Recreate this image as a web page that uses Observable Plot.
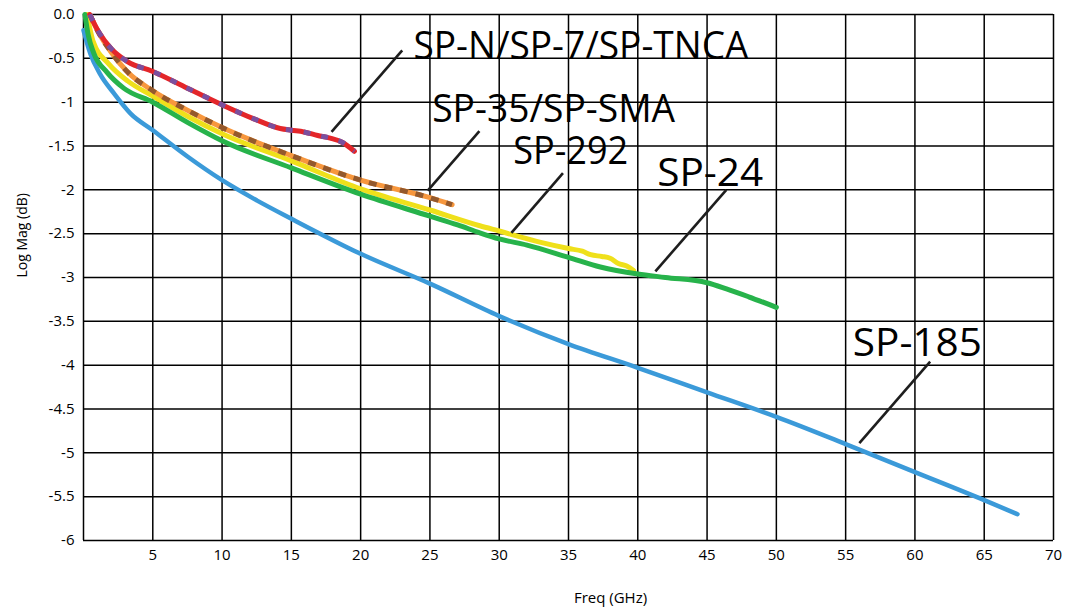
<!DOCTYPE html>
<html><head><meta charset="utf-8">
<script src="https://cdn.jsdelivr.net/npm/d3@7"></script>
<script src="https://cdn.jsdelivr.net/npm/@observablehq/plot@0.6"></script>
<style>body{margin:0;background:#fff}</style>
</head><body><div id="chart"></div>
<script>
// Tick labels
const xTicks = [5,10,15,20,25,30,35,40,45,50,55,60,65,70];
const yTicks = [0,-0.5,-1,-1.5,-2,-2.5,-3,-3.5,-4,-4.5,-5,-5.5,-6];
const gridX = [0,5,10,15,20,25,30,35,40,45,50,55,60,65,70];

// SP-185 (blue)
const sp185Freq = [0,0.5,1.2,2.2,3.4,5,7.5,10,12.5,15,20,25,30,35,40,45,50,55,60,65,67.4];
const sp185Mag  = [-0.18,-0.45,-0.68,-0.90,-1.13,-1.32,-1.62,-1.89,-2.12,-2.33,-2.73,-3.07,-3.44,-3.76,-4.03,-4.31,-4.59,-4.90,-5.22,-5.54,-5.70];

// SP-24 (green)
const sp24Freq = [0.1,0.35,0.74,1.7,2.9,5,7.5,10,15,20,25,27,28.6,30,32,35,37.3,40,42,45,46.4,48,50];
const sp24Mag  = [0,-0.24,-0.44,-0.66,-0.84,-1.00,-1.23,-1.44,-1.75,-2.05,-2.30,-2.40,-2.49,-2.56,-2.63,-2.77,-2.88,-2.96,-3.00,-3.06,-3.13,-3.22,-3.34];

// SP-292 (yellow)
const sp292Freq = [0.25,0.7,1.8,3.2,5,7.5,10,15,20,25,28.6,30,33,35,36,36.6,37.4,38,38.6,39.2,39.7];
const sp292Mag  = [0,-0.31,-0.56,-0.76,-0.93,-1.16,-1.36,-1.67,-1.99,-2.23,-2.41,-2.47,-2.60,-2.67,-2.70,-2.74,-2.76,-2.78,-2.84,-2.87,-2.92];

// SP-35/SP-SMA (orange with brown dashes)
const sp35Freq = [0.45,1,2,3.2,5,7.6,10,15,20,25,26.6];
const sp35Mag  = [0,-0.18,-0.43,-0.66,-0.87,-1.10,-1.29,-1.61,-1.89,-2.09,-2.17];

// SP-N/SP-7/SP-TNCA (red with purple dashes)
const spNFreq = [0.45,1.1,2,3.2,5,7.5,10,12.3,14.2,15,15.9,16.9,17.8,18.7,19.55];
const spNMag  = [0,-0.2,-0.39,-0.54,-0.65,-0.84,-1.03,-1.19,-1.30,-1.32,-1.34,-1.38,-1.41,-1.46,-1.56];

// Annotation labels and leader lines
const labelText = ["SP-N/SP-7/SP-TNCA","SP-35/SP-SMA","SP-292","SP-24","SP-185"];
const labelX = [23.81,25.16,31.01,41.40,55.52];
const labelY = [-0.502,-1.228,-1.711,-1.954,-3.90];
const leaderX1 = [23.0,28.57,34.6,46.39,61.1];
const leaderY1 = [-0.41,-1.33,-1.81,-2.0,-3.96];
const leaderX2 = [17.9,24.84,30.88,41.27,55.99];
const leaderY2 = [-1.34,-2.01,-2.49,-2.93,-4.89];

const toRows = (f, m) => f.map((d, i) => ({f: d, m: m[i]}));
const labels = labelText.map((t, i) => ({t, x: labelX[i], y: labelY[i]}));
const leaders = leaderX1.map((d, i) => ({x1: d, y1: leaderY1[i], x2: leaderX2[i], y2: leaderY2[i]}));

const lineOpts = (color, w = 5) => ({x: "f", y: "m", stroke: color, strokeWidth: w, curve: "monotone-x", strokeLinecap: "round", strokeLinejoin: "round"});

const chart = Plot.plot({
  width: 1080, height: 607,
  marginLeft: 83, marginRight: 27, marginTop: 14, marginBottom: 67,
  x: {domain: [0, 70]},
  y: {domain: [-6, 0]},
  style: {fontFamily: "'Open Sans', sans-serif", fontSize: "15px", background: "#fff", color: "#000", overflow: "visible"},
  marks: [
    Plot.ruleX(gridX, {stroke: "#000", strokeWidth: 1.5}),
    Plot.ruleY(yTicks, {stroke: "#000", strokeWidth: 1.5}),
    Plot.axisX(xTicks, {tickSize: 0, tickPadding: 9, label: null, fontSize: 15}),
    Plot.axisY(yTicks, {tickSize: 0, tickPadding: 9, label: null, fontSize: 15, tickFormat: d => d === 0 ? "0.0" : String(d)}),
    Plot.line(toRows(sp185Freq, sp185Mag), lineOpts("#3b9ad9", 4.5)),
    Plot.line(toRows(sp292Freq, sp292Mag), lineOpts("#efe01b", 5)),
    Plot.line(toRows(sp24Freq, sp24Mag), lineOpts("#27b34b", 5)),
    Plot.line(toRows(sp35Freq, sp35Mag), lineOpts("#f7973d", 5)),
    Plot.line(toRows(sp35Freq, sp35Mag), {...lineOpts("#94592c", 5), strokeLinecap: "butt", strokeDasharray: "8,8"}),
    Plot.line(toRows(spNFreq, spNMag), lineOpts("#e3262a", 5)),
    Plot.line(toRows(spNFreq, spNMag), {...lineOpts("#7b4f9e", 5), strokeLinecap: "butt", strokeDasharray: "7,11"}),
    Plot.link(leaders, {x1: "x1", y1: "y1", x2: "x2", y2: "y2", stroke: "#1e1e1e", strokeWidth: 2.6}),
    Plot.text(labels, {x: "x", y: "y", text: "t", textAnchor: "start", lineAnchor: "bottom", fontSize: 39, fill: "#000"}),
    Plot.text(["Freq (GHz)"], {frameAnchor: "bottom", dx: 42, dy: 58, fontSize: 15, lineAnchor: "middle"}),
    Plot.text(["Log Mag (dB)"], {frameAnchor: "left", dx: -61, dy: 0, rotate: -90, fontSize: 14, lineAnchor: "middle"})
  ]
});
document.getElementById("chart").append(chart);

// fit the large annotation labels to the widths seen in the reference
const labelWidths = {"SP-N/SP-7/SP-TNCA": 335, "SP-35/SP-SMA": 243, "SP-292": 115, "SP-24": 106, "SP-185": 129};
d3.select(chart).selectAll("text").each(function() {
  const t = this.textContent;
  if (labelWidths[t]) {
    this.setAttribute("textLength", labelWidths[t]);
    this.setAttribute("lengthAdjust", "spacingAndGlyphs");
  }
});
</script>
</body></html>
